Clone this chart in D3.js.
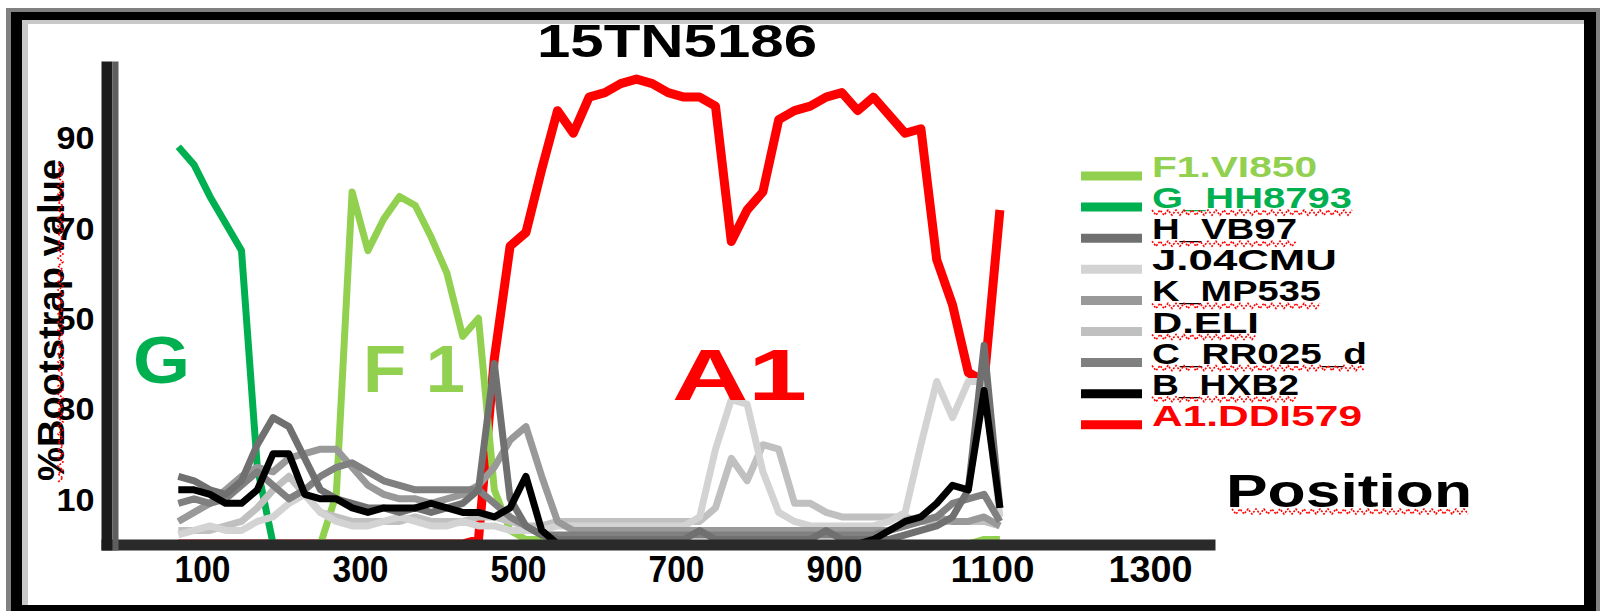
<!DOCTYPE html>
<html>
<head>
<meta charset="utf-8">
<script src="https://cdn.jsdelivr.net/npm/d3@7"></script>
<style>
  body { margin: 0; background: #fff; }
  svg { display: block; }
  text { font-family: "Liberation Sans", Arial, sans-serif; font-weight: bold; }
</style>
</head>
<body>
<script>
const width = 1600;
const height = 611;

// bootscan window positions (step 20)
const positions = d3.range(70, 1111, 20);

const xTicks = [100, 300, 500, 700, 900, 1100, 1300];
const yTicks = [10, 30, 50, 70, 90];

const seriesNames = ["F1.VI850", "G_HH8793", "H_VB97", "J.04CMU", "K_MP535", "D.ELI", "C_RR025_d", "B_HXB2", "A1.DDI579"];
const seriesColors = ["#92d050", "#00b050", "#707070", "#d3d3d3", "#999999", "#c0c0c0", "#808080", "#000000", "#ff0000"];

const valF1 = [0,0,0,0,0,0,0,0,0,0, 11,78,65,72,77,75,68,60,46,50, 12,3,1,1,0,0,0,0,0,0, 0,0,0,0,0,0,0,0,0,0, 0,0,0,0,0,0,0,0,0,0, 0,1,1];
const valG  = [88,84,77,71,65,17,0,0,0,0, 0,0,0,0,0,0,0,0,0,0, 0,0,0,0,0,0,0,0,0,0, 0,0,0,0,0,0,0,0,0,0, 0,0,0,0,0,0,0,0,0,0, 0,0,0];
const valH  = [15,14,12,11,14,22,28,26,19,12, 10,9,8,8,7,8,7,8,9,12, 40,10,4,2,1,1,1,1,1,1, 1,1,1,3,1,1,1,1,1,1, 1,3,1,1,1,1,2,3,4,6, 12,44,8];
const valJ  = [2,3,4,3,3,5,6,9,11,7, 5,4,4,5,6,5,4,4,5,4, 4,3,3,3,4,4,4,4,4,4, 4,4,4,6,21,32,31,16,7,5, 4,4,4,4,4,5,7,22,36,28, 36,36,6];
const valK  = [5,7,9,12,15,17,16,19,20,21, 21,17,13,11,10,10,9,10,11,13, 17,23,26,15,5,3,3,3,3,3, 3,3,3,3,3,3,3,3,3,3, 3,3,3,3,3,3,4,5,6,5, 5,6,4];
const valD  = [3,3,3,4,5,8,12,15,11,7, 6,5,5,5,5,6,5,5,5,6, 6,5,4,4,5,5,5,5,5,5, 5,5,5,5,8,19,14,22,21,9, 9,7,6,6,6,6,6,5,5,5, 5,5,4];
const valC  = [9,10,9,10,13,16,13,10,12,15, 17,18,16,14,13,12,12,12,12,12, 9,6,4,2,2,2,2,2,2,2, 2,2,2,2,2,2,2,2,2,2, 2,2,2,2,2,3,4,5,6,9, 10,11,5];
const valB  = [12,12,11,9,9,12,20,20,11,10, 10,8,7,8,8,8,9,8,7,7, 6,8,15,3,0,0,0,0,0,0, 0,0,0,0,0,0,0,0,0,0, 0,0,0,0,1,3,5,6,9,13, 12,34,8];
const valA1 = [0,0,0,0,0,0,0,0,0,0, 0,0,0,0,0,0,0,0,0,1, 41,66,69,83,96,91,99,100,102,103, 102,100,99,99,97,67,74,78,94,96, 97,99,100,96,99,95,91,92,63,53, 38,36,74];

const seriesValues = [valF1, valG, valH, valJ, valK, valD, valC, valB, valA1];
// drawing order: red and greens underneath the grey lines
const drawOrder = [8, 0, 1, 5, 3, 4, 6, 2, 7];

const svg = d3.select("body")
  .append("svg")
  .attr("width", width)
  .attr("height", height)
  .attr("viewBox", [0, 0, width, height]);

// frame
svg.append("rect").attr("x", 6).attr("y", 8).attr("width", 1594).attr("height", 603).attr("fill", "#808080");
svg.append("rect").attr("x", 11).attr("y", 12).attr("width", 1585).attr("height", 599).attr("fill", "#000");
svg.append("rect").attr("x", 22).attr("y", 20).attr("width", 1562).attr("height", 585).attr("fill", "#c8c8c8");
svg.append("rect").attr("x", 28).attr("y", 24).attr("width", 1556).attr("height", 581).attr("fill", "#fff");

const xScale = d3.scaleLinear([0, 1300], [123, 1150]);
const yScale = d3.scaleLinear([0, 100], [544, 92.6]);

function squiggle(x1, x2, y, vertical) {
  const pts = [];
  const n = Math.floor((x2 - x1) / 4);
  for (let k = 0; k <= n; k++) {
    const a = x1 + k * 4;
    const b = y + (k % 2 ? 5 : 0);
    pts.push(vertical ? [b, a] : [a, b]);
  }
  svg.append("path")
    .attr("d", d3.line()(pts))
    .attr("fill", "none")
    .attr("stroke", "#ff0000")
    .attr("stroke-width", 1.6)
    .attr("stroke-dasharray", "2,1.4");
}

// data lines
const line = d3.line()
  .x((d, i) => xScale(positions[i]))
  .y(d => yScale(d));

svg.append("g")
  .selectAll("path")
  .data(drawOrder)
  .join("path")
  .attr("fill", "none")
  .attr("stroke", s => seriesColors[s])
  .attr("stroke-width", s => s === 8 ? 9 : 7)
  .attr("stroke-linejoin", "round")
  .attr("stroke-linecap", "butt")
  .attr("d", s => line(seriesValues[s]));

// x axis
const xAxisScale = xScale.copy().domain([xScale.invert(101), xScale.invert(1215)]).range([101, 1215]);
const xAxis = svg.append("g")
  .attr("transform", `translate(0,${544.5})`)
  .call(d3.axisBottom(xAxisScale).tickValues(xTicks).tickSize(0).tickSizeOuter(0).tickFormat(d3.format("d")));
xAxis.select(".domain").attr("stroke", "#2a2a2a").attr("stroke-width", 11);
xAxis.selectAll("text")
  .attr("y", 37).attr("dy", null)
  .attr("font-size", 36)
  .attr("fill", "#000")
  .attr("textLength", d => String(d).length > 3 ? 84 : 56)
  .attr("lengthAdjust", "spacingAndGlyphs");

// y axis
const yAxisScale = yScale.copy().domain([yScale.invert(550), yScale.invert(61)]).range([550, 61]);
const yAxis = svg.append("g")
  .attr("transform", "translate(106.5,0)")
  .call(d3.axisLeft(yAxisScale).tickValues(yTicks).tickSize(0).tickSizeOuter(0));
yAxis.select(".domain").attr("stroke", "#1c1c1c").attr("stroke-width", 11);
yAxis.selectAll("text")
  .attr("x", -12).attr("dy", "0.36em")
  .attr("font-size", 31)
  .attr("fill", "#000")
  .attr("textLength", 38)
  .attr("lengthAdjust", "spacingAndGlyphs");
svg.append("g")
  .attr("transform", "translate(115,0)")
  .call(d3.axisLeft(yAxisScale).tickValues([]).tickSize(0).tickSizeOuter(0))
  .select(".domain").attr("stroke", "#5e5e5e").attr("stroke-width", 6);

// y axis title
svg.append("text")
  .attr("transform", "translate(64,320) rotate(-90)")
  .attr("text-anchor", "middle")
  .attr("font-size", 36)
  .attr("font-weight", "normal")
  .attr("textLength", 322)
  .attr("lengthAdjust", "spacingAndGlyphs")
  .text("%Bootstrap value");
squiggle(162, 482, 58, true);

// title
svg.append("text")
  .attr("x", 537).attr("y", 57)
  .attr("font-size", 46)
  .attr("textLength", 280)
  .attr("lengthAdjust", "spacingAndGlyphs")
  .text("15TN5186");

// x axis title
svg.append("text")
  .attr("x", 1226).attr("y", 507)
  .attr("font-size", 47)
  .attr("textLength", 246)
  .attr("lengthAdjust", "spacingAndGlyphs")
  .text("Position");
squiggle(1232, 1468, 509, false);

// region labels
const regionLabels = [
  { text: "G", x: 133, y: 383, size: 66, len: 57, color: "#00b050" },
  { text: "F 1", x: 363, y: 392, size: 66, len: 102, color: "#92d050" },
  { text: "A1", x: 672, y: 400, size: 72, len: 135, color: "#ff0000" }
];
svg.append("g")
  .selectAll("text")
  .data(regionLabels)
  .join("text")
  .attr("x", d => d.x).attr("y", d => d.y)
  .attr("font-size", d => d.size)
  .attr("fill", d => d.color)
  .attr("textLength", d => d.len)
  .attr("lengthAdjust", "spacingAndGlyphs")
  .text(d => d.text);

// legend
const legendWidths = [165, 200, 145, 185, 169, 107, 215, 147, 210];
const legendSquiggle = [false, true, true, false, true, true, true, true, false];
const legend = svg.append("g");
seriesNames.forEach((name, i) => {
  const ly = 176 + i * 31.1;
  legend.append("line")
    .attr("x1", 1081).attr("x2", 1142)
    .attr("y1", ly).attr("y2", ly)
    .attr("stroke", seriesColors[i])
    .attr("stroke-width", 9);
  legend.append("text")
    .attr("x", 1152).attr("y", ly + 1)
    .attr("font-size", 30)
    .attr("fill", i === 0 || i === 1 || i === 8 ? seriesColors[i] : "#000")
    .attr("textLength", legendWidths[i])
    .attr("lengthAdjust", "spacingAndGlyphs")
    .text(name);
  if (legendSquiggle[i]) squiggle(1152, 1152 + legendWidths[i], ly + 3, false);
});
</script>
</body>
</html>
